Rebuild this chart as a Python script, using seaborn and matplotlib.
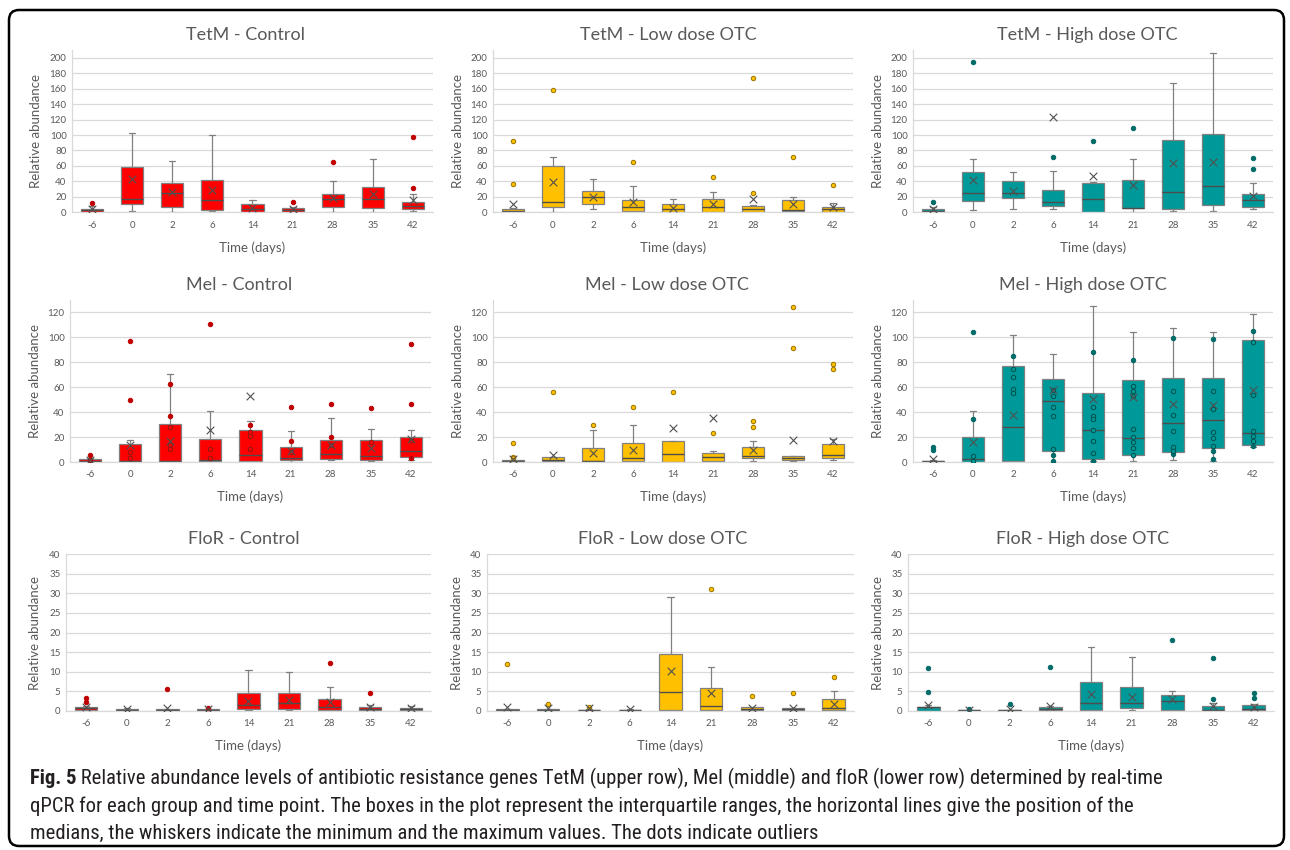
import numpy as np
import pandas as pd
import matplotlib
matplotlib.use("Agg")
import matplotlib.pyplot as plt
import seaborn as sns
from matplotlib.patches import FancyBboxPatch
from matplotlib.transforms import IdentityTransform
from matplotlib import font_manager

# ---------------------------------------------------------------------------
# Data: sampling days, and per panel the five-number summary of each day
# (min, Q1, median, Q3, max), the mean, and the individually shown points.
# ---------------------------------------------------------------------------
TIMES = ["-6", "0", "2", "6", "14", "21", "28", "35", "42"]

tetm_control_box = [(0.3, 1.0, 2.5, 4.5, 8.0), (1.7, 10.8, 17.6, 59.0, 103.0),
                    (0.4, 7.3, 24.5, 38.0, 67.0), (1.3, 2.6, 15.5, 41.7, 99.8),
                    (0.3, 0.4, 4.7, 10.3, 15.5), (1.0, 1.0, 3.0, 5.6, 7.3),
                    (0.4, 6.9, 17.6, 23.7, 40.4), (1.0, 5.6, 17.6, 32.3, 68.8),
                    (1.3, 3.9, 8.6, 13.3, 23.2)]
tetm_control_mean = [4.0, 43.5, 25.8, 28.4, 5.6, 3.9, 19.0, 23.2, 16.0]
tetm_control_pts = [[12.5], [], [], [], [], [12.9], [64.5], [], [97.6, 31.4]]

tetm_low_box = [(0.3, 0.5, 2.2, 4.3, 5.0), (1.0, 6.5, 13.8, 59.8, 71.0),
                (4.7, 10.3, 20.2, 27.1, 42.6), (0.4, 1.7, 6.5, 15.9, 34.0),
                (0.0, 0.4, 4.7, 11.2, 16.8), (0.0, 0.4, 6.5, 16.8, 26.7),
                (0.4, 1.0, 4.3, 8.6, 9.5), (0.4, 2.2, 3.0, 15.9, 19.4),
                (0.0, 0.4, 4.7, 6.9, 11.6)]
tetm_low_mean = [10.8, 39.0, 20.2, 12.9, 5.6, 10.8, 16.8, 10.8, 6.5]
tetm_low_pts = [[92.9, 36.6], [158.7], [], [64.5], [], [45.2], [174.0, 24.5], [71.0], [35.3]]

tetm_high_box = [(0.4, 0.4, 2.2, 3.9, 7.3), (2.6, 14.6, 24.5, 52.5, 68.8),
                 (4.7, 18.5, 24.9, 40.9, 51.6), (3.9, 7.7, 12.9, 28.8, 52.9),
                 (0.4, 0.4, 17.2, 37.4, 39.6), (1.0, 5.2, 6.0, 41.7, 68.4),
                 (1.3, 4.7, 26.2, 93.8, 166.9), (2.2, 9.9, 34.0, 101.0, 206.5),
                 (3.9, 6.5, 15.5, 23.2, 37.8)]
tetm_high_mean = [4.7, 41.3, 28.0, 123.9, 46.5, 35.7, 63.7, 65.0, 21.0]
tetm_high_pts = [[13.3], [195.0], [], [71.4], [92.5], [109.0], [], [], [69.7, 56.3]]

mel_control_box = [(0.0, 0.3, 1.0, 2.4, 3.2), (0.0, 0.5, 0.8, 14.5, 18.0),
                    (0.0, 0.5, 0.8, 30.3, 70.2), (0.0, 0.5, 1.3, 18.2, 41.0),
                    (0.0, 0.5, 5.9, 26.0, 33.2), (0.3, 1.9, 3.5, 12.3, 24.9),
                    (1.3, 2.4, 6.4, 18.0, 35.6), (0.5, 1.3, 5.1, 18.0, 26.5),
                    (1.6, 4.3, 8.6, 19.8, 26.0)]
mel_control_mean = [1.6, 13.4, 16.9, 25.4, 52.8, 9.1, 13.4, 11.3, 18.2]
mel_control_pts = [[5.6, 2.0], [96.7, 49.6, 8.0, 3.5], [62.7, 36.7, 28.0, 13.4, 10.7],
                   [110.9, 10.7, 3.5], [30.0, 24.0, 21.0, 10.2], [44.2, 16.9, 8.0],
                   [46.3, 20.1, 13.4], [42.9, 16.0], [94.6, 46.1, 17.4, 3.2]]

mel_low_box = [(0.0, 0.1, 0.5, 1.3, 1.9), (0.0, 0.5, 1.6, 4.0, 4.0),
               (0.0, 0.5, 1.1, 11.0, 25.7), (0.0, 0.5, 3.2, 15.2, 29.7),
               (0.0, 0.0, 6.4, 16.6, 16.8), (0.0, 0.5, 4.3, 7.2, 8.8),
               (1.1, 3.5, 5.1, 12.0, 16.8), (0.8, 1.9, 3.2, 5.1, 5.1),
               (1.6, 3.5, 5.9, 14.4, 18.2)]
mel_low_mean = [2.7, 5.3, 6.9, 9.4, 27.3, 35.0, 9.6, 17.6, 17.1]
mel_low_pts = [[15.0, 4.0, 3.2], [55.9], [29.9], [44.4], [56.4], [23.2],
               [32.6, 27.8], [124.3, 91.1], [78.6, 74.3]]

mel_high_box = [(0.0, 0.0, 0.5, 1.1, 1.9), (0.0, 0.0, 2.4, 20.0, 40.6),
                (0.0, 0.5, 28.3, 77.2, 101.8), (0.3, 9.1, 48.6, 66.5, 86.6),
                (0.5, 2.1, 25.7, 55.0, 125.3), (0.5, 5.9, 19.0, 65.7, 104.0),
                (1.6, 7.8, 31.3, 67.1, 107.7), (1.1, 11.5, 33.4, 67.1, 104.0),
                (12.3, 13.9, 23.0, 97.8, 118.4)]
mel_high_mean = [2.7, 16.0, 37.9, 57.7, 50.5, 51.8, 46.5, 46.0, 58.0]
mel_high_pts = [[11.8, 9.4],
                [104.5, 34.7, 4.8, 1.0],
                [85.2, 74.6, 68.4, 58.5, 55.3],
                [57.7, 52.9, 44.1, 37.1, 10.4, 5.9, 0.5],
                [88.5, 43.8, 36.9, 34.5, 25.4, 16.6, 7.2, 1.0],
                [81.8, 60.9, 56.7, 52.9, 26.5, 19.8, 16.3, 11.5, 5.9],
                [99.1, 56.7, 37.4, 25.1, 11.8, 9.1, 6.4],
                [98.3, 56.7, 42.5, 24.0, 19.2, 12.8, 9.1, 2.7],
                [105.0, 96.2, 54.0, 25.1, 20.8, 16.8, 12.8]]

flor_control_box = [(0.1, 0.25, 0.6, 1.0, 1.2), (0.05, 0.1, 0.2, 0.35, 0.6),
                    (0.05, 0.1, 0.2, 0.35, 0.5), (0.05, 0.1, 0.2, 0.4, 0.5),
                    (0.1, 0.35, 1.35, 4.4, 10.5), (0.1, 0.35, 1.9, 4.4, 9.8),
                    (0.1, 0.2, 1.0, 3.1, 6.0), (0.1, 0.25, 0.5, 0.95, 1.45),
                    (0.1, 0.25, 0.5, 0.75, 1.2)]
flor_control_mean = [0.85, 0.4, 0.75, 0.5, 2.5, 2.7, 2.3, 0.95, 0.75]
flor_control_pts = [[3.2, 2.1], [], [5.5], [0.75], [], [], [12.2], [4.4], []]

flor_low_box = [(0.05, 0.1, 0.25, 0.4, 0.5), (0.05, 0.1, 0.2, 0.4, 0.5),
                (0.05, 0.1, 0.15, 0.3, 0.4), (0.05, 0.1, 0.15, 0.3, 0.4),
                (0.1, 0.25, 4.7, 14.5, 29.1), (0.1, 0.25, 1.2, 5.9, 11.2),
                (0.1, 0.25, 0.4, 0.85, 0.9), (0.1, 0.25, 0.4, 0.7, 0.8),
                (0.1, 0.25, 0.6, 2.9, 5.0)]
flor_low_mean = [1.0, 0.7, 0.6, 0.4, 10.2, 4.5, 0.7, 0.75, 1.7]
flor_low_pts = [[11.9], [1.7], [1.0], [], [], [31.0], [3.8], [4.5], [8.7]]

flor_high_box = [(0.0, 0.0, 0.85, 1.0, 1.4), (0.0, 0.05, 0.1, 0.25, 0.3),
                 (0.0, 0.05, 0.1, 0.25, 0.3), (0.05, 0.1, 0.45, 0.85, 1.2),
                 (0.1, 0.2, 2.0, 7.3, 16.4), (0.1, 0.6, 2.0, 6.1, 13.8),
                 (0.1, 0.2, 2.4, 4.1, 5.1), (0.05, 0.1, 0.25, 1.1, 2.0),
                 (0.1, 0.2, 0.45, 1.5, 1.8)]
flor_high_mean = [1.4, 0.25, 0.35, 1.2, 4.3, 3.5, 3.0, 1.1, 1.0]
flor_high_pts = [[11.0, 4.9], [0.35], [1.7], [11.1], [], [], [18.1], [13.5, 3.1], [4.5, 3.2]]

CAPTION_LINES = [
    "Relative abundance levels of antibiotic resistance genes TetM (upper row), Mel (middle) and floR (lower row) determined by real-time",
    "qPCR for each group and time point. The boxes in the plot represent the interquartile ranges, the horizontal lines give the position of the",
    "medians, the whiskers indicate the minimum and the maximum values. The dots indicate outliers",
]

# ---------------------------------------------------------------------------
# Styling
# ---------------------------------------------------------------------------
sns.set_theme(style="white")
plt.rcParams["font.family"] = ["Lato", "DejaVu Sans"]

TXT = "#595959"
GRID = "#D9D9D9"
BOX_EDGE = "#808080"
MEDIAN_C = "#4D4D4D"
MEAN_C = "#505050"

STYLES = {
    "Control": dict(box="#FF0000", dot="#C00000", dot_edge="#C00000", ring="#8B1A1A"),
    "Low dose OTC": dict(box="#FFC000", dot="#FFC000", dot_edge="#9A7400", ring="#8A6A00"),
    "High dose OTC": dict(box="#009999", dot="#006B68", dot_edge="#006B68", ring="#004F4C"),
}

W, H = 1290, 850
fig = plt.figure(figsize=(W / 100, H / 100), dpi=100)
fig.patch.set_facecolor("white")


def px_axes(x0, x1, y0, y1):
    return fig.add_axes([x0 / W, 1 - y1 / H, (x1 - x0) / W, (y1 - y0) / H])


def draw_panel(ax, box, means, pts, style, ymax, ytop, ystep):
    summary = pd.DataFrame({"time": np.repeat(TIMES, 5), "value": np.concatenate(box)})
    sns.boxplot(data=summary, x="time", y="value", order=TIMES, ax=ax,
                color=style["box"], saturation=1, width=0.55, whis=(0, 100),
                showfliers=False, linecolor=BOX_EDGE, linewidth=0.9,
                medianprops=dict(color=MEDIAN_C, linewidth=1.0),
                capwidths=0.15)

    rows = [(t, v) for t, vals in zip(TIMES, pts) for v in vals]
    if rows:
        pdf = pd.DataFrame(rows, columns=["time", "value"])
        q1 = dict(zip(TIMES, [b[1] for b in box]))
        q3 = dict(zip(TIMES, [b[3] for b in box]))
        inside = (pdf["value"] >= pdf["time"].map(q1)) & (pdf["value"] <= pdf["time"].map(q3))
        for sub, face, edge in [(pdf[~inside], style["dot"], style["dot_edge"]),
                                (pdf[inside], style["box"], style["ring"])]:
            if len(sub):
                sns.stripplot(data=sub, x="time", y="value", order=TIMES, jitter=False,
                              ax=ax, color=face, edgecolor=edge, linewidth=0.7,
                              size=3.2, zorder=4)

    mdf = pd.DataFrame({"time": TIMES, "value": means})
    sns.stripplot(data=mdf, x="time", y="value", order=TIMES, jitter=False, ax=ax,
                  marker="x", color=MEAN_C, linewidth=0.8, size=5.5, zorder=5)

    ax.set_xlim(-0.5, 8.5)
    ax.set_ylim(0, ymax)
    ax.set_yticks(np.arange(0, ytop + ystep / 2, ystep))
    ax.yaxis.grid(True, color=GRID, linewidth=0.9)
    ax.xaxis.grid(False)
    ax.set_axisbelow(True)
    for s in ("top", "right"):
        ax.spines[s].set_visible(False)
    for s in ("left", "bottom"):
        ax.spines[s].set_color(GRID)
        ax.spines[s].set_linewidth(0.9)
    ax.set_xlabel("")
    ax.set_ylabel("")
    ax.tick_params(axis="both", length=0, labelsize=7.0, labelcolor=TXT)
    ax.tick_params(axis="x", pad=6)
    ax.tick_params(axis="y", pad=4)


PANELS = [
    # gene, group, data, y-range, axes box (px), title x, ylabel x
    ("TetM", "Control", tetm_control_box, tetm_control_mean, tetm_control_pts, (210, 200, 20), (72, 433, 50, 212.3), 245, 36),
    ("TetM", "Low dose OTC", tetm_low_box, tetm_low_mean, tetm_low_pts, (210, 200, 20), (493, 853, 50, 212.3), 668, 458),
    ("TetM", "High dose OTC", tetm_high_box, tetm_high_mean, tetm_high_pts, (210, 200, 20), (913, 1273, 50, 212.3), 1087, 878),
    ("Mel", "Control", mel_control_box, mel_control_mean, mel_control_pts, (130, 120, 20), (70, 431, 299.8, 462), 239, 35),
    ("Mel", "Low dose OTC", mel_low_box, mel_low_mean, mel_low_pts, (130, 120, 20), (493, 853, 299.8, 462), 667, 458),
    ("Mel", "High dose OTC", mel_high_box, mel_high_mean, mel_high_pts, (130, 120, 20), (913, 1273, 299.8, 462), 1083, 878),
    ("FloR", "Control", flor_control_box, flor_control_mean, flor_control_pts, (40, 40, 5), (66, 431, 554.3, 710.7), 244, 35),
    ("FloR", "Low dose OTC", flor_low_box, flor_low_mean, flor_low_pts, (40, 40, 5), (487, 854, 554.3, 710.7), 663, 457),
    ("FloR", "High dose OTC", flor_high_box, flor_high_mean, flor_high_pts, (40, 40, 5), (908, 1274, 554.3, 710.7), 1083, 878),
]

for gene, group, box, means, pts, (ymax, ytop, ystep), (x0, x1, y0, y1), tx, lx in PANELS:
    ax = px_axes(x0, x1, y0, y1)
    draw_panel(ax, box, means, pts, STYLES[group], ymax, ytop, ystep)
    fig.text(tx / W, 1 - (y0 - 15) / H, f"{gene} - {group}", ha="center", va="center",
             fontsize=13, color=TXT)
    fig.text(lx / W, 1 - ((y0 + y1) / 2) / H, "Relative abundance", rotation=90,
             ha="center", va="center", fontsize=9.5, color=TXT)
    fig.text(((x0 + x1) / 2) / W, 1 - (y1 + 35) / H, "Time (days)", ha="center",
             va="center", fontsize=9.5, color=TXT)

# Caption in a narrow face when one is installed
available = {f.name for f in font_manager.fontManager.ttflist}
narrow = [f for f in ("Liberation Sans Narrow", "DejaVu Sans Condensed", "Roboto Condensed")
          if f in available]
CAP_FONT = narrow[:1] + ["DejaVu Sans"]
CAP_C = "#231F20"
cap_y = [778, 806, 833]

renderer = fig.canvas.get_renderer()
size = 12.0
lab = fig.text(30 / W, 1 - cap_y[0] / H, "Fig. 5", fontsize=size, fontweight="bold",
               family=CAP_FONT, va="center", color=CAP_C)
first = fig.text(0, 1 - cap_y[0] / H, " " + CAPTION_LINES[0], fontsize=size,
                 family=CAP_FONT, va="center", color=CAP_C)
total = lab.get_window_extent(renderer).width + first.get_window_extent(renderer).width
size *= (1162 - 30) / total
lab.set_fontsize(size)
first.set_fontsize(size)
first.set_x(lab.get_window_extent(renderer).x1 / W)
for line, y in zip(CAPTION_LINES[1:], cap_y[1:]):
    fig.text(30 / W, 1 - y / H, line, fontsize=size, family=CAP_FONT, va="center", color=CAP_C)

# Rounded frame around the whole figure
frame = FancyBboxPatch((9, 4), 1275, 836, boxstyle="round,pad=0,rounding_size=10",
                       transform=IdentityTransform(), fill=False, edgecolor="black",
                       linewidth=1.8)
fig.patches.append(frame)

fig.savefig("out.png", dpi=100, facecolor="white")
